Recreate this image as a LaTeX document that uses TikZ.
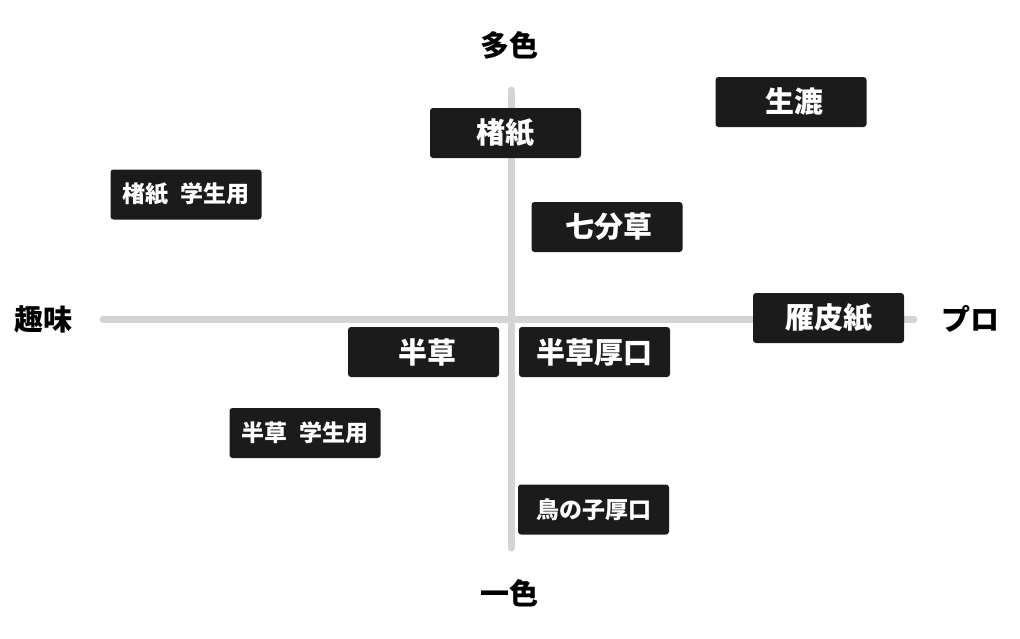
\documentclass[tikz,border=0pt]{standalone}
\usepackage{fontspec}
\setmainfont{Noto Sans CJK JP}
\definecolor{boxc}{HTML}{1B1B1B}
\definecolor{axisc}{HTML}{D4D4D4}
\tikzset{
  card/.style={fill=boxc, rounded corners=3pt, minimum width=151pt, minimum height=50pt, inner sep=0pt, text=white, font=\fontsize{29}{32}\selectfont\bfseries},
  smallcard/.style={card, font=\fontsize{23}{26}\selectfont\bfseries},
  axislabel/.style={inner sep=0pt, text=black, font=\fontsize{29}{32}\selectfont\bfseries},
  axisline/.style={draw=axisc, line width=7pt, line cap=round}
}
\begin{document}
\begin{tikzpicture}[x=1pt,y=-1pt]
\useasboundingbox (0,0) rectangle (1020,638);
\coordinate (L) at (103,319);
\coordinate (R) at (914,319);
\coordinate (T) at (511,90);
\coordinate (B) at (511,548);
\draw[axisline] (L) -- (R);
\draw[axisline] (T) -- (B);
\node[axislabel] (top) at (509,45) {多色};
\node[axislabel] (bottom) at (509,593) {一色};
\node[axislabel] (left) at (43,319) {趣味};
\node[axislabel] (right) at (970,319) {プロ};
\node[card] (kozo) at (505.5,133) {楮紙};
\node[card] (kizuki) at (791,102) {\hspace*{6pt}生漉};
\node[smallcard] (kozogaku) at (186,194.5) {楮紙\hspace{0.5em}学生用};
\node[card] (shichibu) at (607,227) {\hspace*{4pt}七分草};
\node[card] (ganpi) at (828.5,318) {雁皮紙};
\node[card] (hanso) at (423.5,352) {\hspace*{8pt}半草};
\node[card] (hansoatsu) at (594.5,352) {半草厚口};
\node[smallcard] (hansogaku) at (305,433) {半草\hspace{0.5em}学生用};
\node[smallcard] (torinoko) at (593.5,509.5) {鳥の子厚口};
\end{tikzpicture}
\end{document}
